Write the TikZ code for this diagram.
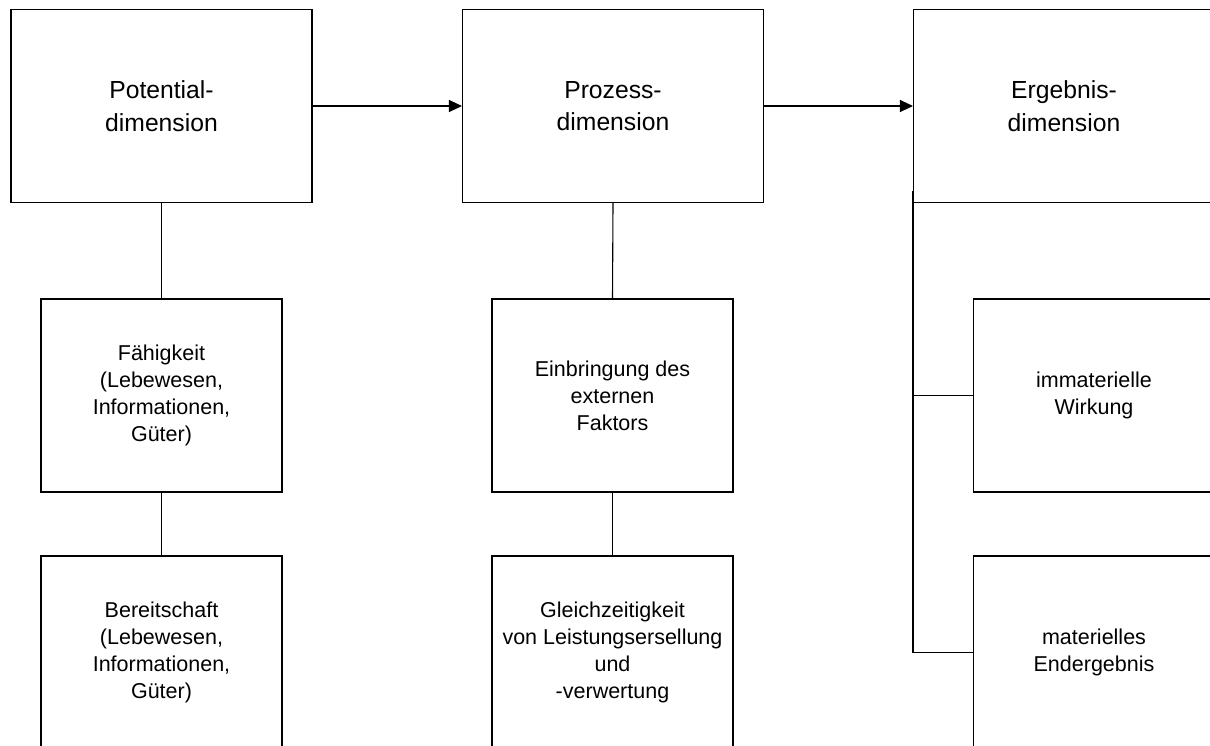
\documentclass[tikz,border=0pt]{standalone}
\usepackage{fontspec}
\setmainfont{Liberation Sans}
\usetikzlibrary{arrows.meta}
\begin{document}
\begin{tikzpicture}[x=1pt,y=-1pt,
  line width=1.1pt,
  dimbox/.style={draw=black, rectangle, minimum width=301pt, minimum height=193pt,
    inner sep=0pt, align=center, font=\fontsize{24.7}{32.5}\selectfont},
  subbox/.style={draw=black, rectangle, minimum width=241pt, minimum height=193pt,
    inner sep=0pt, align=center, font=\fontsize{21.5}{27}\selectfont},
  link/.style={draw=black, line width=1.1pt},
  flow/.style={link, -{Triangle[length=13pt,width=12pt]}}]
\useasboundingbox (0,0) rectangle (1210,745);
\clip (0,0) rectangle (1210,745);
\fill[white] (0,0) rectangle (1210,745);

% main dimensions
\node[dimbox] (pot) at (161.5,106) {Potential-\\dimension};
\node[dimbox] (pro) at (613,106) {Prozess-\\dimension};
\node[dimbox] (erg) at (1064,106) {Ergebnis-\\dimension};

% sub-aspects
\node[subbox] (faeh) at (161.5,395.5) {Fähigkeit\\(Lebewesen,\\Informationen,\\Güter)};
\node[subbox] (bereit) at (161.5,652.5) {Bereitschaft\\(Lebewesen,\\Informationen,\\Güter)};
\node[subbox] (einbr) at (612.5,395.5) {Einbringung des\\externen\\Faktors};
\node[subbox] (gleich) at (612.5,652.5) {Gleichzeitigkeit\\von Leistungsersellung\\und\\-verwertung};
\node[subbox] (immat) at (1094,395.5) {immaterielle\\Wirkung};
\node[subbox] (mater) at (1094,652.5) {materielles\\Endergebnis};

% flow between dimensions
\draw[flow] (pot.east) -- (pro.west);
\draw[flow] (pro.east) -- (erg.west);

% hierarchy
\draw[link] (pot.south) -- (faeh.north);
\draw[link] (faeh.south) -- (bereit.north);
\draw[link] (pro.south) -- (einbr.north);
\draw[link] (einbr.south) -- (gleich.north);
\coordinate (branch) at ([yshift=12pt]erg.south west);
\draw[link] (branch) |- (mater.west);
\draw[link] (immat.west) -- (immat.west -| branch);
\end{tikzpicture}
\end{document}
